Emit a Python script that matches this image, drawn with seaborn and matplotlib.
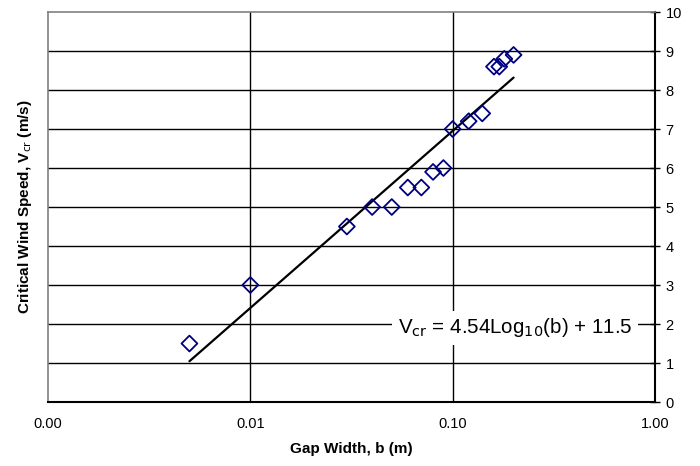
import matplotlib
matplotlib.use("Agg")
import matplotlib.pyplot as plt
import matplotlib.ticker as mticker
import numpy as np
import pandas as pd
import seaborn as sns

gap_width = [0.005, 0.01, 0.03, 0.04, 0.05, 0.06, 0.07, 0.08, 0.09, 0.10,
             0.12, 0.14, 0.16, 0.17, 0.18, 0.20]
wind_speed = [1.5, 3.0, 4.5, 5.0, 5.0, 5.5, 5.5, 5.9, 6.0, 7.0,
              7.2, 7.4, 8.6, 8.6, 8.8, 8.9]
x_ticks = [0.001, 0.01, 0.1, 1.0]
x_ticklabels = ["0.00", "0.01", "0.10", "1.00"]
y_ticks = list(range(0, 11))
fit_label = r"V$_{\rm cr}$ = 4.54Log$_{10}$(b) + 11.5"

df = pd.DataFrame({"b": gap_width, "v": wind_speed})

sns.set_style("white")
plt.rcParams["font.family"] = ["Liberation Sans", "DejaVu Sans"]
plt.rcParams.update({"text.color": "black", "axes.labelcolor": "black",
                     "xtick.color": "black", "ytick.color": "black"})

fig = plt.figure(figsize=(7, 4.66), dpi=100)
ax = fig.add_axes([0.0686, 0.1373, 0.8671, 0.8369])

ax.set_xscale("log")
ax.set_xlim(0.001, 1.0)
ax.set_ylim(0, 10)

# grid
for yv in y_ticks[1:-1]:
    ax.axhline(yv, color="black", lw=1.0, zorder=1)
for xv in x_ticks[1:-1]:
    ax.axvline(xv, color="black", lw=1.0, zorder=1)

# logarithmic trendline
sns.regplot(data=df, x="b", y="v", logx=True, ci=None, scatter=False,
            line_kws=dict(color="black", lw=1.6, zorder=3), ax=ax)

sns.scatterplot(data=df, x="b", y="v", marker="D", s=65, facecolor="none",
                edgecolor="#000080", linewidth=1.3, zorder=4, ax=ax)

ax.text(0.0535, 1.9, fit_label, fontsize=14.8, va="center", ha="left",
        color="black", zorder=5,
        bbox=dict(facecolor="white", edgecolor="none", pad=4))

ax.set_xticks(x_ticks)
ax.set_xticklabels(x_ticklabels)
ax.xaxis.set_minor_locator(mticker.NullLocator())
ax.set_yticks(y_ticks)
ax.yaxis.tick_right()
ax.tick_params(axis="x", direction="inout", length=8, width=1.2, labelsize=10.5,
               pad=7, colors="black")
ax.tick_params(axis="y", direction="inout", length=7, width=1.0, labelsize=10.5,
               right=True, left=False, pad=4, colors="black")

ax.set_xlabel("Gap Width, b (m)", fontsize=11, fontweight="bold", labelpad=8)
ax.set_ylabel(r"Critical Wind Speed, V$_{\rm cr}$ (m/s)", fontsize=11,
              fontweight="bold", labelpad=10)
ax.yaxis.set_label_position("left")

for side in ["left", "top"]:
    ax.spines[side].set_color("#808080")
    ax.spines[side].set_linewidth(1.2)
for side in ["right", "bottom"]:
    ax.spines[side].set_color("black")
    ax.spines[side].set_linewidth(1.5)

fig.savefig("out.png", dpi=100)
